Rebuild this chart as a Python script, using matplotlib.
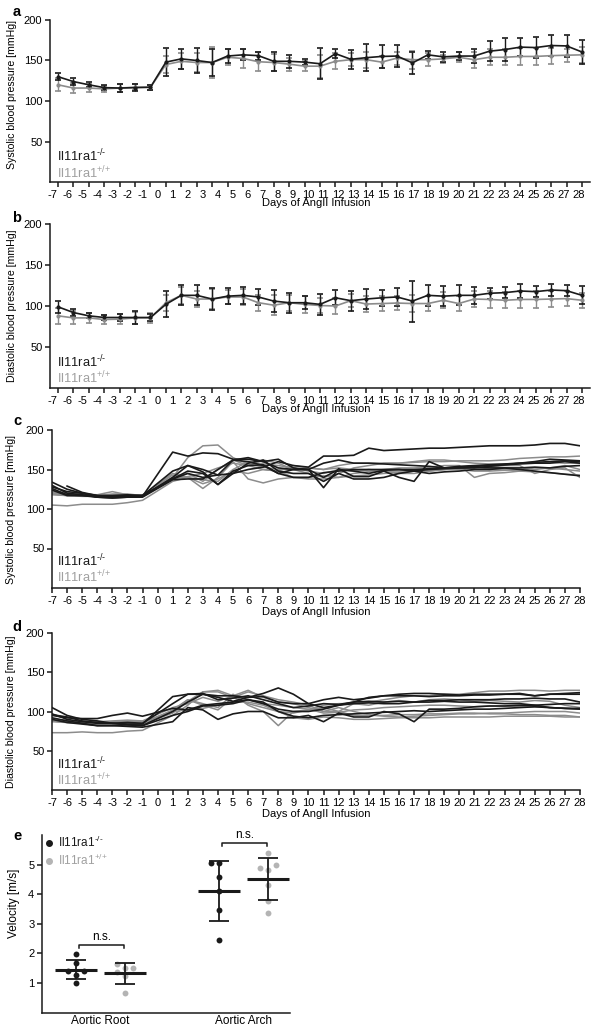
import numpy as np
import matplotlib.pyplot as plt
from matplotlib.lines import Line2D

plt.rcParams['font.family'] = ['Liberation Sans', 'DejaVu Sans']
plt.rcParams['mathtext.fontset'] = 'custom'
plt.rcParams['mathtext.rm'] = 'Liberation Sans'
plt.rcParams['mathtext.default'] = 'regular'

BLACK = '#1a1a1a'
GREY = '#8c8c8c'
GREY_TXT = '#a0a0a0'
GREY_DOT = '#b4b4b4'

KO = r'Il11ra1$^{\text{-/-}}$'
WT = r'Il11ra1$^{\text{+/+}}$'

# ---------------- data ----------------
day_labels = list(range(-7, 29))
days = [d for d in day_labels if d != 0]      # no reading on day 0

# a: systolic, mean / SD
sys_ko = [130, 124, 120, 116.5, 116, 116.5, 117,
          148, 152, 150, 147.5, 155.5, 157, 156, 149, 149,
          148, 146, 158.5, 151.5, 153.5, 155, 155.5, 147, 157, 154.5, 155.5, 155.5,
          161.5, 163.5, 166.5, 166, 168.5, 168, 160.5]
sys_ko_sd = [4, 4, 3, 3, 5, 4, 3,
             17, 12, 15, 17, 8.5, 7, 5, 12, 8,
             4, 19, 6, 11.5, 16.5, 14, 13.5, 14, 5, 6.5, 5, 8.5,
             12, 14, 11, 13, 13, 13.5, 15]
sys_wt = [120, 116, 116, 115, 116, 117, 117,
          145, 149, 147.5, 147.5, 154, 152.5, 148.5, 147.5, 145.5,
          143, 143, 149, 151, 151, 148, 153, 151, 151, 152, 154, 151,
          154, 154, 155, 155, 156, 156.5, 157]
sys_wt_sd = [8, 6, 5, 4, 5, 4, 3,
             10, 10, 12, 19, 10, 12, 12, 10, 8,
             6, 14, 10, 8, 10, 7, 8, 11, 8, 5, 6, 10,
             10, 10, 10, 10, 10, 8, 10]

# b: diastolic, mean / SD
dia_ko = [99, 92, 88, 86, 86, 86, 86,
          102, 113, 113, 108.5, 112, 113, 111, 106, 104,
          104, 102, 110, 106.5, 108.5, 110, 111, 106, 113, 112, 113, 113,
          115.5, 116.3, 118.3, 117.5, 119.5, 118.7, 113]
dia_ko_sd = [7, 4, 3, 3, 4, 8, 4,
             16, 12, 12, 13, 10, 10, 10, 13, 12,
             8, 13, 9, 12, 12, 10, 11, 25, 13, 12, 12, 10,
             7, 7, 8, 7, 7, 7, 11]
dia_wt = [88, 85.5, 85.5, 83.5, 84, 85.5, 85.5,
          104, 113, 108.5, 108.5, 111, 111, 104, 101, 104,
          102, 100.6, 100, 106.5, 102.4, 103, 103.6, 103, 103, 107, 103, 108.5,
          108, 107, 108, 108, 108.5, 109, 107]
dia_wt_sd = [10, 8, 6, 6, 6, 7, 6,
             10, 10, 10, 12, 9, 10, 10, 12, 10,
             10, 9, 10, 8, 10, 9, 9, 10, 9, 10, 9, 10,
             10, 10, 10, 10, 10, 9, 9]

# c: systolic, single mice
sys_mice_ko = [
    [128, 122, 120, 117, 116, 117, 117, 148, 155, 150, 143, 145, 150, 153, 160, 155, 153, 167,
     167, 168, 177, 174, 175, 176, 177, 177, 178, 179, 180, 180, 180, 181, 183, 183, 180],
    [134, 125, 120, 115, 115, 116, 116, 172, 167, 171, 170, 163, 163, 160, 152, 150, 150, 158,
     162, 158, 158, 157, 156, 155, 154, 152, 152, 153, 152, 152, 150, 148, 146, 144, 142],
    [np.nan, 129, 121, 117, 117, 118, 117, 138, 148, 145, 131, 148, 155, 156, 145, 150, 150, 127,
     151, 141, 141, 148, 140, 135, 160, 152, 153, 154, 155, 156, 158, 159, 160, 161, 160],
    [126, 118, 117, 115, 114, 115, 116, 140, 155, 147, 131, 145, 158, 162, 148, 145, 145, 135,
     145, 138, 138, 140, 145, 148, 145, 147, 148, 150, 150, 152, 152, 153, 152, 154, 155],
    [124, 117, 117, 116, 116, 115, 115, 137, 138, 138, 150, 162, 165, 160, 163, 152, 150, 140,
     150, 148, 145, 149, 150, 150, 151, 152, 154, 155, 156, 157, 158, 160, 163, 162, 161],
    [130, 120, 118, 115, 114, 115, 117, 138, 145, 140, 143, 162, 160, 155, 145, 140, 140, 146,
     148, 150, 150, 150, 150, 148, 150, 151, 152, 152, 154, 156, 157, 158, 158, 160, 158],
]
sys_mice_wt = [
    [120, 118, 118, 117, 118, 118, 116, 140, 165, 180, 181, 165, 157, 153, 150, 150, 152, 150,
     155, 158, 158, 158, 158, 159, 160, 160, 161, 161, 161, 162, 164, 165, 166, 166, 167],
    [105, 104, 106, 106, 106, 108, 111, 135, 140, 126, 140, 160, 138, 133, 138, 140, 140, 142,
     140, 145, 147, 148, 148, 149, 150, 150, 150, 148, 148, 149, 150, 152, 152, 150, 148],
    [118, 117, 117, 118, 122, 118, 118, 140, 145, 135, 150, 162, 155, 150, 148, 155, 152, 150,
     152, 150, 148, 150, 152, 152, 153, 155, 155, 140, 145, 146, 148, 150, 152, 155, 150],
    [121, 119, 118, 117, 119, 119, 117, 143, 140, 137, 135, 150, 160, 157, 155, 152, 148, 145,
     150, 148, 150, 148, 145, 145, 148, 150, 152, 152, 153, 155, 155, 145, 150, 152, 140],
    [119, 117, 116, 116, 117, 117, 117, 138, 141, 145, 152, 158, 155, 162, 158, 150, 145, 140,
     145, 152, 155, 158, 158, 160, 162, 162, 160, 158, 157, 157, 158, 158, 159, 158, 158],
    [123, 120, 119, 118, 117, 118, 117, 145, 140, 132, 138, 148, 145, 150, 148, 140, 138, 138,
     140, 142, 143, 145, 146, 148, 148, 150, 152, 153, 150, 150, 148, 147, 146, 144, 143],
]

# d: diastolic, single mice
dia_mice_ko = [
    [97, 90, 87, 85, 85, 84, 84, 119, 122, 122, 120, 120, 118, 119, 112, 110, 110, 115,
     118, 115, 117, 120, 120, 120, 119, 120, 120, 121, 121, 122, 122, 120, 122, 123, 124],
    [105, 95, 90, 88, 85, 83, 82, 100, 112, 122, 118, 113, 118, 123, 130, 122, 110, 105,
     108, 112, 118, 120, 122, 123, 123, 122, 121, 122, 122, 122, 123, 120, 122, 122, 122],
    [92, 88, 85, 82, 82, 81, 80, 87, 105, 102, 90, 97, 100, 100, 92, 92, 95, 87,
     98, 93, 93, 100, 97, 87, 103, 103, 104, 106, 107, 107, 108, 108, 109, 110, 110],
    [95, 92, 91, 91, 95, 98, 94, 104, 102, 108, 110, 112, 115, 110, 103, 100, 100, 103,
     108, 110, 111, 110, 110, 112, 112, 113, 112, 112, 111, 110, 110, 108, 105, 104, 103],
    [90, 86, 84, 82, 82, 83, 82, 95, 100, 107, 108, 110, 115, 112, 100, 94, 92, 95,
     96, 97, 98, 99, 100, 101, 100, 101, 102, 103, 103, 104, 105, 106, 105, 104, 104],
    [96, 93, 88, 86, 85, 86, 85, 110, 122, 123, 115, 117, 120, 115, 110, 105, 107, 110,
     109, 112, 113, 112, 113, 112, 114, 114, 115, 115, 115, 116, 116, 117, 116, 116, 112],
]
dia_mice_wt = [
    [73, 73, 74, 73, 73, 75, 76, 95, 108, 125, 127, 120, 127, 118, 112, 110, 105, 100,
     100, 110, 112, 115, 118, 120, 120, 122, 122, 124, 126, 126, 127, 127, 126, 127, 127],
    [89, 88, 87, 86, 87, 88, 87, 100, 115, 110, 105, 122, 108, 100, 82, 100, 102, 105,
     100, 95, 95, 95, 96, 96, 97, 97, 98, 98, 97, 97, 96, 96, 95, 95, 93],
    [88, 87, 86, 85, 86, 87, 85, 102, 115, 108, 102, 118, 110, 105, 100, 98, 102, 108,
     110, 110, 108, 112, 114, 112, 115, 116, 115, 113, 114, 113, 112, 114, 113, 108, 105],
    [87, 86, 86, 84, 84, 85, 84, 98, 113, 125, 125, 118, 125, 120, 115, 112, 108, 100,
     105, 100, 96, 94, 93, 94, 95, 96, 97, 97, 98, 98, 99, 100, 100, 100, 98],
    [90, 89, 87, 87, 88, 89, 88, 105, 110, 118, 113, 120, 115, 110, 108, 105, 103, 98,
     99, 102, 103, 105, 106, 107, 108, 108, 107, 106, 107, 107, 106, 106, 105, 104, 103],
    [88, 86, 85, 85, 86, 86, 86, 100, 102, 104, 108, 112, 112, 108, 100, 92, 90, 93,
     92, 90, 90, 91, 92, 92, 92, 93, 93, 93, 93, 94, 94, 94, 94, 93, 93],
]

# e: pulse wave velocity
sites = ['Aortic Root', 'Aortic Arch']
vel_ko = [[1.97, 1.67, 1.41, 1.41, 1.27, 0.99],
          [5.06, 5.06, 4.57, 4.10, 3.45, 2.46]]
vel_wt = [[1.65, 1.51, 1.51, 1.37, 1.25, 0.66],
          [5.40, 4.98, 4.89, 4.81, 4.30, 3.78, 3.38]]

# ---------------- figure ----------------
W, H = 601, 1035
fig = plt.figure(figsize=(W / 100, H / 100), dpi=100)


def px_axes(left, top, right, bottom):
    return fig.add_axes([left / W, 1 - bottom / H, (right - left) / W, (bottom - top) / H])


def style(ax):
    for s in ['top', 'right']:
        ax.spines[s].set_visible(False)
    for s in ['left', 'bottom']:
        ax.spines[s].set_linewidth(1.1)
        ax.spines[s].set_color(BLACK)
    ax.tick_params(which='major', direction='out', length=3.5, width=1.1, color=BLACK,
                   labelsize=8, pad=2)


def bp_axes(ax, ylabel, ylab_x, ylab_y):
    style(ax)
    ax.set_ylim(0, 200)
    ax.set_yticks([50, 100, 150, 200])
    ax.set_ylabel(ylabel, fontsize=7.6)
    ax.yaxis.set_label_coords(ylab_x, ylab_y)
    ax.set_xlabel('Days of AngII Infusion', fontsize=8, va='top')


def genotype_text(ax, x, y1, y2):
    ax.text(x, y1, KO, transform=ax.transAxes, fontsize=9.3, color=BLACK, va='center')
    ax.text(x, y2, WT, transform=ax.transAxes, fontsize=9.3, color=GREY_TXT, va='center')


def mean_panel(ax, ko, ko_sd, wt, wt_sd, ylabel, ylab_y):
    x = np.arange(len(days))
    kw = dict(lw=1.2, elinewidth=1.0, capsize=2, capthick=1.2, marker='o', ms=2)
    ax.errorbar(x, wt, yerr=wt_sd, color=GREY, **kw)
    ax.errorbar(x, ko, yerr=ko_sd, color=BLACK, **kw)
    bp_axes(ax, ylabel, -0.061, ylab_y)
    ax.set_xlim(-0.52, len(days) - 0.48)
    ax.set_xticks(x, [''] * len(x))
    # day labels run on their own spacing below the point ticks
    ax.set_xticks(np.linspace(-0.38, len(days) - 1.2, len(day_labels)),
                  [str(d) for d in day_labels], minor=True)
    ax.tick_params(which='minor', length=0, labelsize=8, pad=5.5)
    ax.xaxis.set_label_coords(0.493, -0.1)


def mice_panel(ax, mice_ko, mice_wt, ylabel):
    for m in mice_wt:
        ax.plot(days, m, color=GREY, lw=1.1)
    for m in mice_ko:
        ax.plot(days, m, color=BLACK, lw=1.2)
    bp_axes(ax, ylabel, -0.068, 0.5)
    ax.set_xlim(day_labels[0], day_labels[-1])
    ax.set_xticks(day_labels, [str(d) for d in day_labels])
    ax.xaxis.set_label_coords(0.5, -0.12)


ax_a = px_axes(50, 20, 590, 182)
mean_panel(ax_a, sys_ko, sys_ko_sd, sys_wt, sys_wt_sd, 'Systolic blood pressure [mmHg]', 0.54)
genotype_text(ax_a, 0.013, 0.16, 0.056)

ax_b = px_axes(50, 224, 590, 388)
mean_panel(ax_b, dia_ko, dia_ko_sd, dia_wt, dia_wt_sd, 'Diastolic blood pressure [mmHg]', 0.5)
genotype_text(ax_b, 0.013, 0.16, 0.063)

ax_c = px_axes(52, 430, 580, 588)
mice_panel(ax_c, sys_mice_ko, sys_mice_wt, 'Systolic blood pressure [mmHg]')
genotype_text(ax_c, 0.01, 0.172, 0.072)

ax_d = px_axes(52, 633, 580, 790)
mice_panel(ax_d, dia_mice_ko, dia_mice_wt, 'Diastolic blood pressure [mmHg]')
genotype_text(ax_d, 0.01, 0.165, 0.062)


# ---- e ----
def swarm(values, center, step=0.056, ythr=0.24):
    values = np.asarray(values)
    xs = np.empty(len(values))
    placed = []
    for i in np.argsort(values):
        v = values[i]
        for k in [0, -1, 1, -2, 2, -3, 3]:
            off = k * step
            if all(((off - po) / step) ** 2 + ((v - pv) / ythr) ** 2 >= 0.99 for po, pv in placed):
                break
        placed.append((off, v))
        xs[i] = center + off
    return xs


ax_e = px_axes(42, 835, 290, 1012.5)
style(ax_e)
shift = 0.171
for i, site in enumerate(sites):
    for vals, col, dx in [(vel_ko[i], BLACK, -shift), (vel_wt[i], GREY_DOT, shift)]:
        xc = i + dx
        ax_e.scatter(swarm(vals, xc), vals, s=18, color=col, zorder=3, linewidths=0)
        m, sd = np.mean(vals), np.std(vals, ddof=1)
        ax_e.errorbar([xc], [m], yerr=[sd], color=BLACK, lw=0, elinewidth=1.3,
                      capsize=7.5, capthick=1.3, zorder=4)
        ax_e.hlines(m, xc - 0.145, xc + 0.145, color=BLACK, lw=2.2, zorder=4)
    # n.s. bracket
    top = max(np.mean(vel_ko[i]) + np.std(vel_ko[i], ddof=1),
              np.mean(vel_wt[i]) + np.std(vel_wt[i], ddof=1))
    yb = top + 0.5
    x0, x1 = i - shift + 0.02, i + shift - 0.01
    ax_e.plot([x0, x0, x1, x1], [yb - 0.1, yb, yb, yb - 0.1], color=BLACK, lw=1.1)
    ax_e.text((x0 + x1) / 2, yb + 0.06, 'n.s.', ha='center', va='bottom', fontsize=8.5)

ax_e.set_xlim(-0.41, 1.325)
ax_e.set_ylim(0, 6)
ax_e.set_yticks([1, 2, 3, 4, 5])
ax_e.set_xticks(range(len(sites)), sites)
ax_e.tick_params(axis='x', length=0, labelsize=8.5, pad=2)
ax_e.set_ylabel('Velocity [m/s]', fontsize=8.5)
ax_e.yaxis.set_label_coords(-0.089, 0.617)
handles = [Line2D([], [], ls='', marker='o', ms=4, color=BLACK, label=KO),
           Line2D([], [], ls='', marker='o', ms=4, color=GREY_DOT, label=WT)]
ax_e.legend(handles=handles, loc='upper left', bbox_to_anchor=(0.015, 1.0), frameon=False,
            fontsize=8.5, handlelength=0.6, handletextpad=0.4, borderpad=0, borderaxespad=0,
            labelspacing=0.25, labelcolor=[BLACK, GREY_TXT])

# panel letters
for letter, y in zip('abcde', [12, 218, 421, 627, 836]):
    fig.text(17 / W, 1 - y / H, letter, fontsize=10.5, weight='bold', ha='center', va='center')

fig.savefig('out.png', dpi=100)
